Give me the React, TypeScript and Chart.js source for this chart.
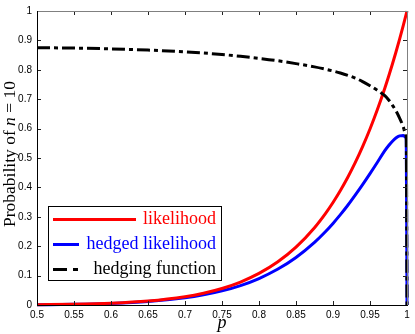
import { useEffect, useRef } from "react";
import { Chart, registerables } from "chart.js";

Chart.register(...registerables);

const pValues = [
  0.5, 0.55, 0.6, 0.65, 0.7, 0.725, 0.75, 0.775, 0.8, 0.825, 0.85, 0.875, 0.89, 0.9, 0.91,
  0.92, 0.93, 0.94, 0.95, 0.96, 0.97, 0.975, 0.98, 0.985, 0.99, 0.995, 0.997, 0.999, 1,
];
const likelihood = [
  0.000977, 0.002533, 0.006047, 0.013463, 0.028248, 0.040122, 0.056314, 0.078166, 0.107374,
  0.146063, 0.196874, 0.263076, 0.311817, 0.348678, 0.389417, 0.434388, 0.483982, 0.538615,
  0.598737, 0.664833, 0.737424, 0.77633, 0.817073, 0.85973, 0.904382, 0.95111, 0.970402,
  0.990045, 1,
];
const hedgedLikelihood = [
  0.000855, 0.002214, 0.005267, 0.011672, 0.024322, 0.034385, 0.04798, 0.066128, 0.090087,
  0.121378, 0.161634, 0.213092, 0.250077, 0.277548, 0.30725, 0.339257, 0.373634, 0.409347,
  0.446658, 0.485328, 0.525046, 0.541878, 0.556427, 0.568282, 0.575187, 0.576373, 0.572537,
  0.564326, 0,
];
const hedgingFunction = [
  0.875, 0.874, 0.871, 0.867, 0.861, 0.857, 0.852, 0.846, 0.839, 0.831, 0.821, 0.81, 0.802,
  0.796, 0.789, 0.781, 0.772, 0.76, 0.746, 0.73, 0.712, 0.698, 0.681, 0.661, 0.636, 0.606,
  0.59, 0.57, 0,
];
const seriesNames = ["likelihood", "hedged likelihood", "hedging function"];
const xAxisLabel = "p";
const yAxisLabelParts = ["Probability of ", "n", " = 10"];

const RED = "#ff0000";
const BLUE = "#0000ff";
const BLACK = "#000000";
const DASH_DOT = [13, 4, 4, 4];

const toPoints = (ys: number[]) => pValues.map((p, i) => ({ x: p, y: ys[i] }));

const fmt = (v: number) => String(Number(v.toFixed(2)));

const framePlugin = {
  id: "frame",
  afterDatasetsDraw(chart: any) {
    const { ctx, chartArea, scales } = chart;
    const { left, right, top, bottom } = chartArea;
    ctx.save();
    ctx.lineWidth = 1;
    ctx.strokeStyle = "#222";
    const tl = 4;
    scales.x.ticks.forEach((t: any) => {
      const px = Math.round(scales.x.getPixelForValue(t.value)) + 0.5;
      ctx.beginPath();
      ctx.moveTo(px, bottom);
      ctx.lineTo(px, bottom - tl);
      ctx.moveTo(px, top);
      ctx.lineTo(px, top + tl);
      ctx.stroke();
    });
    scales.y.ticks.forEach((t: any) => {
      const py = Math.round(scales.y.getPixelForValue(t.value)) + 0.5;
      ctx.beginPath();
      ctx.moveTo(left, py);
      ctx.lineTo(left + tl, py);
      ctx.moveTo(right, py);
      ctx.lineTo(right - tl, py);
      ctx.stroke();
    });
    ctx.strokeStyle = "#808080";
    ctx.beginPath();
    ctx.moveTo(Math.round(left), Math.round(top) + 0.5);
    ctx.lineTo(Math.round(right), Math.round(top) + 0.5);
    ctx.moveTo(Math.round(right) + 0.5, Math.round(top));
    ctx.lineTo(Math.round(right) + 0.5, Math.round(bottom));
    ctx.stroke();
    ctx.strokeStyle = "#000";
    ctx.beginPath();
    ctx.moveTo(Math.round(left) + 0.5, Math.round(top));
    ctx.lineTo(Math.round(left) + 0.5, Math.round(bottom) + 0.5);
    ctx.lineTo(Math.round(right) + 1, Math.round(bottom) + 0.5);
    ctx.stroke();
    ctx.restore();
  },
  afterDraw(chart: any) {
    const { ctx, chartArea } = chart;
    const { left, right } = chartArea;
    ctx.save();
    const bx = 48.5,
      by = 206.5,
      bw = 173,
      bh = 74;
    ctx.fillStyle = "#fff";
    ctx.fillRect(bx, by, bw, bh);
    ctx.strokeStyle = "#000";
    ctx.lineWidth = 1;
    ctx.strokeRect(bx, by, bw, bh);
    const rows = [
      { y: 219.5, color: RED, x2: 136, dash: [] as number[], text: seriesNames[0] },
      { y: 244.5, color: BLUE, x2: 79, dash: [] as number[], text: seriesNames[1] },
      { y: 269.5, color: BLACK, x2: 78, dash: [14, 6, 5, 6], text: seriesNames[2] },
    ];
    ctx.font = "18px 'Liberation Serif'";
    ctx.textAlign = "right";
    ctx.textBaseline = "middle";
    rows.forEach((r) => {
      ctx.setLineDash(r.dash);
      ctx.strokeStyle = r.color;
      ctx.lineWidth = 3;
      ctx.beginPath();
      ctx.moveTo(53, r.y);
      ctx.lineTo(r.x2, r.y);
      ctx.stroke();
      ctx.setLineDash([]);
      ctx.fillStyle = r.color;
      ctx.fillText(r.text, 216, r.y);
    });
    ctx.fillStyle = "#000";
    ctx.font = "italic 18px 'Liberation Serif'";
    ctx.textAlign = "center";
    ctx.textBaseline = "middle";
    ctx.fillText(xAxisLabel, (left + right) / 2, 323);
    ctx.translate(10, 154);
    ctx.rotate(-Math.PI / 2);
    const fonts = [
      "17.5px 'Liberation Serif'",
      "italic 17.5px 'Liberation Serif'",
      "17.5px 'Liberation Serif'",
    ];
    let total = 0;
    const widths = yAxisLabelParts.map((s, i) => {
      ctx.font = fonts[i];
      const w = ctx.measureText(s).width;
      total += w;
      return w;
    });
    let cx = -total / 2;
    ctx.textAlign = "left";
    yAxisLabelParts.forEach((s, i) => {
      ctx.font = fonts[i];
      ctx.fillText(s, cx, 0);
      cx += widths[i];
    });
    ctx.restore();
  },
};

export default function App() {
  const ref = useRef<HTMLCanvasElement | null>(null);
  useEffect(() => {
    document.body.style.margin = "0";
    const canvas = ref.current;
    if (!canvas) return;
    const chart = new Chart(canvas, {
      type: "line",
      data: {
        datasets: [
          {
            label: seriesNames[2],
            data: toPoints(hedgingFunction),
            borderColor: BLACK,
            borderWidth: 3,
            borderDash: DASH_DOT,
            pointRadius: 0,
            cubicInterpolationMode: "monotone",
            clip: 4,
          },
          {
            label: seriesNames[0],
            data: toPoints(likelihood),
            borderColor: RED,
            borderWidth: 3,
            pointRadius: 0,
            cubicInterpolationMode: "monotone",
            clip: 4,
          },
          {
            label: seriesNames[1],
            data: toPoints(hedgedLikelihood),
            borderColor: BLUE,
            borderWidth: 3,
            pointRadius: 0,
            cubicInterpolationMode: "monotone",
            clip: 4,
          },
        ],
      },
      options: {
        animation: false,
        responsive: false,
        maintainAspectRatio: false,
        layout: { padding: { left: 0, right: 8, top: 10, bottom: 0 } },
        plugins: { legend: { display: false }, tooltip: { enabled: false } },
        scales: {
          x: {
            type: "linear",
            min: 0.5,
            max: 1,
            grid: { display: false, drawTicks: false },
            border: { display: false },
            ticks: {
              stepSize: 0.05,
              padding: 4,
              color: "#000",
              font: { family: "'Liberation Sans'", size: 10 },
              callback: (v: any) => fmt(Number(v)),
              maxRotation: 0,
              autoSkip: false,
            },
            afterFit: (s: any) => {
              s.height = 29;
            },
          },
          y: {
            type: "linear",
            min: 0,
            max: 1,
            grid: { display: false, drawTicks: false },
            border: { display: false },
            ticks: {
              stepSize: 0.1,
              padding: 5,
              color: "#000",
              font: { family: "'Liberation Sans'", size: 10 },
              callback: (v: any) => fmt(Number(v)),
            },
            afterFit: (s: any) => {
              s.width = 37;
            },
          },
        },
      },
      plugins: [framePlugin],
    } as any);
    return () => chart.destroy();
  }, []);
  return (
    <div style={{ width: 415, height: 334, background: "#fff" }}>
      <canvas ref={ref} width={415} height={334} style={{ display: "block" }} />
    </div>
  );
}
